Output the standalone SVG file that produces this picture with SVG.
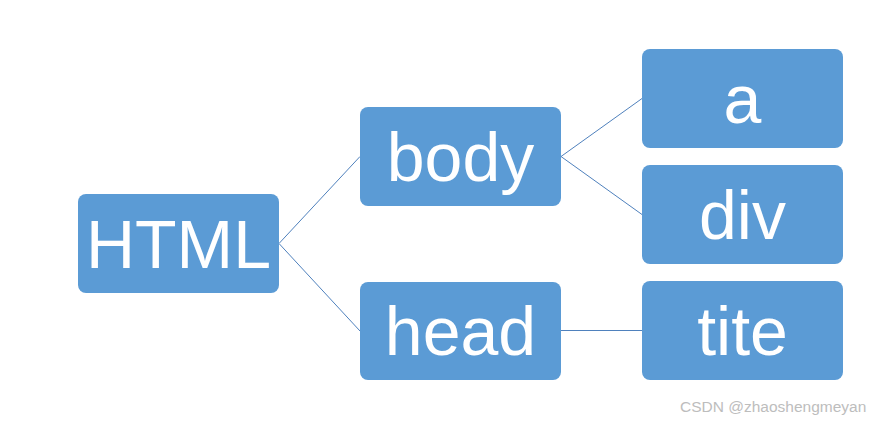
<svg xmlns="http://www.w3.org/2000/svg" width="873" height="422" viewBox="0 0 873 422">
<style>
.box{fill:#5B9BD5;}
.lbl{fill:#FFFFFF;font-family:"Liberation Sans",Arial,sans-serif;font-size:68px;text-anchor:middle;}
.conn{stroke:#4F81BD;stroke-width:1;fill:none;}
.wm{fill:#BDBDBD;font-family:"Liberation Sans",Arial,sans-serif;font-size:15.5px;}
</style>
<rect width="873" height="422" fill="#FFFFFF"/>
<g id="connectors">
<line class="conn" x1="279" y1="243.5" x2="360" y2="156.5"/>
<line class="conn" x1="279" y1="243.5" x2="360" y2="331"/>
<line class="conn" x1="561" y1="156.5" x2="642" y2="98.5"/>
<line class="conn" x1="561" y1="156.5" x2="642" y2="214.5"/>
<line class="conn" x1="561" y1="330.5" x2="642" y2="330.5"/>
</g>
<g id="html">
<rect class="box" x="78" y="194" width="201" height="99" rx="8"/>
<text class="lbl" x="178.5" y="267.5">HTML</text>
</g>
<g id="body">
<rect class="box" x="360" y="107" width="201" height="99" rx="8"/>
<text class="lbl" x="460.5" y="180.5">body</text>
</g>
<g id="head">
<rect class="box" x="360" y="282" width="201" height="98" rx="8"/>
<text class="lbl" x="460.5" y="355">head</text>
</g>
<g id="a">
<rect class="box" x="642" y="49" width="201" height="99" rx="8"/>
<text class="lbl" x="742.5" y="122.5">a</text>
</g>
<g id="div">
<rect class="box" x="642" y="165" width="201" height="99" rx="8"/>
<text class="lbl" x="742.5" y="238.5">div</text>
</g>
<g id="tite">
<rect class="box" x="642" y="281" width="201" height="99" rx="8"/>
<text class="lbl" x="742.5" y="354.5">tite</text>
</g>
<text class="wm" x="680" y="412">CSDN @zhaoshengmeyan</text>
</svg>
